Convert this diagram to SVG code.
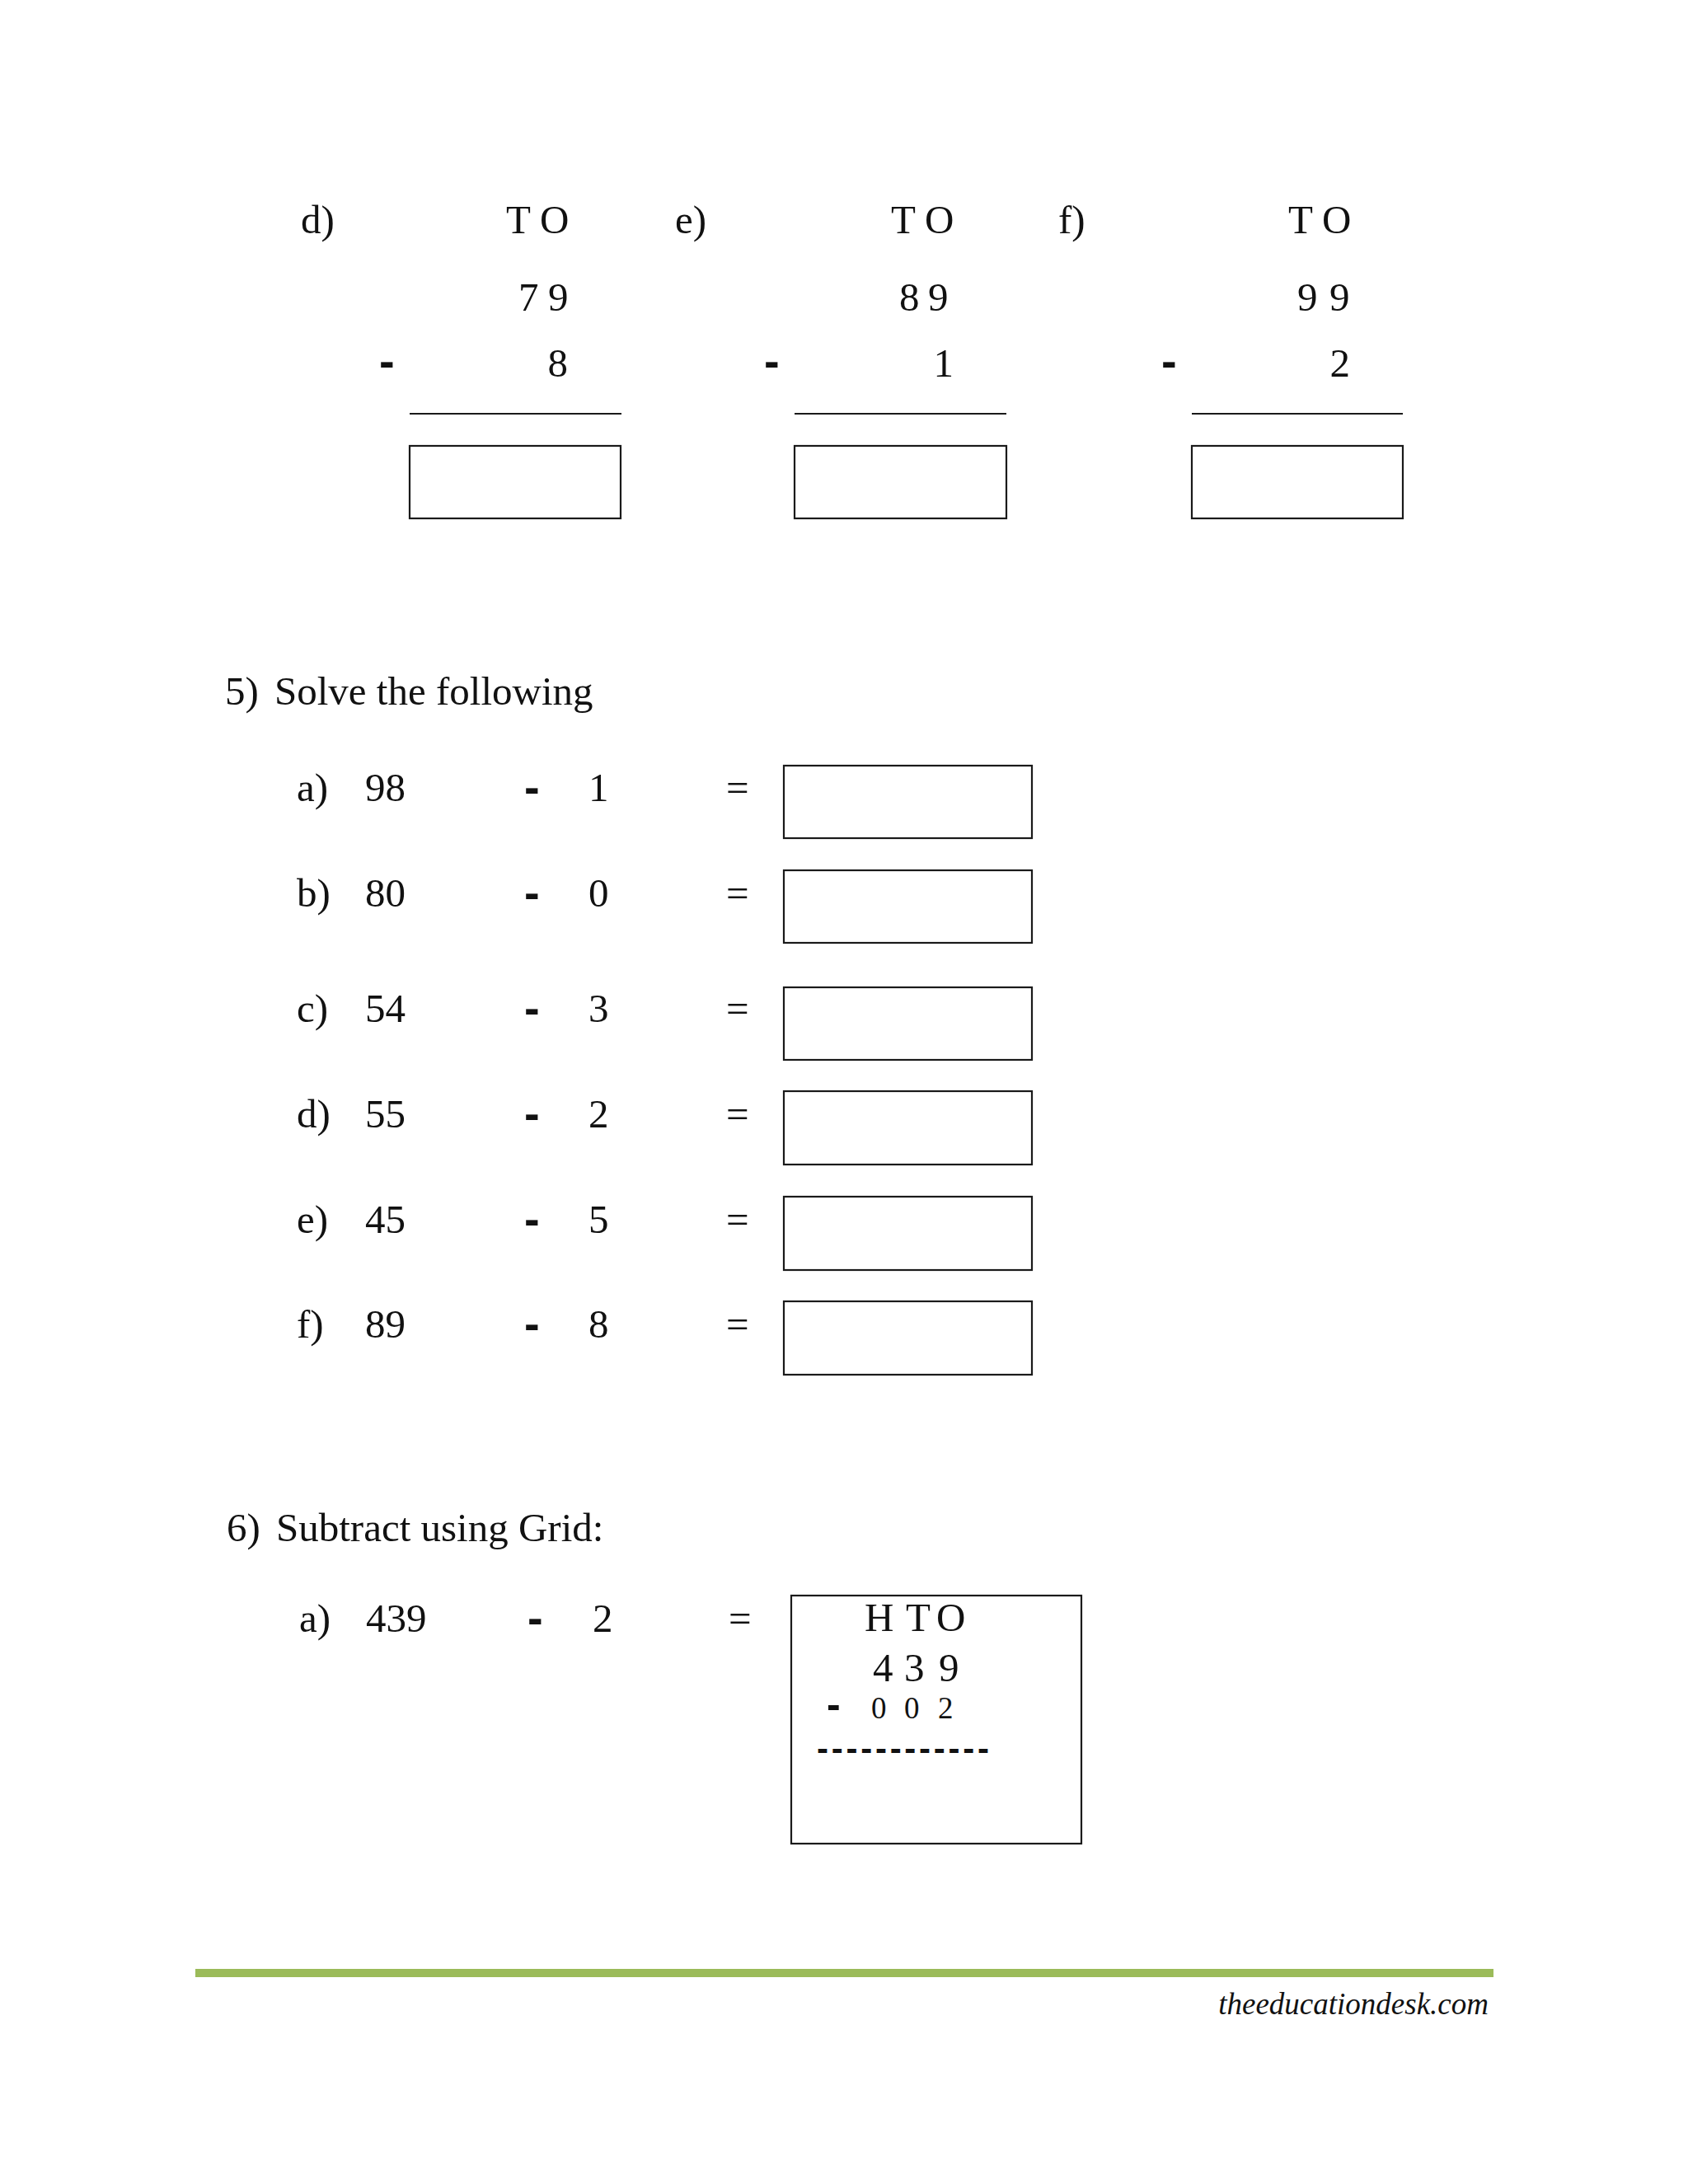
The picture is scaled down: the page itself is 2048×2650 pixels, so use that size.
<svg xmlns="http://www.w3.org/2000/svg" width="2048" height="2650" viewBox="0 0 2048 2650">
<style>
.t{font-family:"Liberation Serif","Times New Roman",serif;font-size:49px;fill:#111}
.m{font-family:"Liberation Sans",Arial,sans-serif;font-weight:bold;font-size:56px;fill:#111}
.b{fill:#fff;stroke:#1a1a1a;stroke-width:2.2}
.rule{stroke:#1a1a1a;stroke-width:2}
.foot{font-family:"Liberation Serif","Times New Roman",serif;font-style:italic;font-size:37px;fill:#111}
</style>
<rect width="2048" height="2650" fill="#fff"/>

<g id="q4d">
<text class="t" x="365" y="283">d)</text>
<text class="t" x="614 655" y="283">TO</text>
<text class="t" x="629 665" y="377">79</text>
<text class="m" x="460" y="457">-</text>
<text class="t" x="689" y="457" text-anchor="end">8</text>
<line class="rule" x1="497" y1="502" x2="754" y2="502"/>
<rect class="b" x="497" y="541" width="256" height="88"/>
</g>
<g id="q4e">
<text class="t" x="819" y="283">e)</text>
<text class="t" x="1081 1122" y="283">TO</text>
<text class="t" x="1091 1126" y="377">89</text>
<text class="m" x="927" y="457">-</text>
<text class="t" x="1157" y="457" text-anchor="end">1</text>
<line class="rule" x1="964" y1="502" x2="1221" y2="502"/>
<rect class="b" x="964" y="541" width="257" height="88"/>
</g>
<g id="q4f">
<text class="t" x="1284" y="283">f)</text>
<text class="t" x="1563 1604" y="283">TO</text>
<text class="t" x="1574 1613" y="377">99</text>
<text class="m" x="1409" y="457">-</text>
<text class="t" x="1638" y="457" text-anchor="end">2</text>
<line class="rule" x1="1446" y1="502" x2="1702" y2="502"/>
<rect class="b" x="1446" y="541" width="256" height="88"/>
</g>

<g id="q5-title">
<text class="t" x="273" y="855">5)<tspan x="333">Solve the following</tspan></text>
</g>
<g id="q5a">
<text class="t" x="360" y="972">a)</text>
<text class="t" x="443" y="972">98</text>
<text class="m" x="636" y="974">-</text>
<text class="t" x="714" y="972">1</text>
<text class="t" x="881" y="972">=</text>
<rect class="b" x="951" y="929" width="301" height="88"/>
</g>
<g id="q5b">
<text class="t" x="360" y="1100">b)</text>
<text class="t" x="443" y="1100">80</text>
<text class="m" x="636" y="1102">-</text>
<text class="t" x="714" y="1100">0</text>
<text class="t" x="881" y="1100">=</text>
<rect class="b" x="951" y="1056" width="301" height="88"/>
</g>
<g id="q5c">
<text class="t" x="360" y="1240">c)</text>
<text class="t" x="443" y="1240">54</text>
<text class="m" x="636" y="1242">-</text>
<text class="t" x="714" y="1240">3</text>
<text class="t" x="881" y="1240">=</text>
<rect class="b" x="951" y="1198" width="301" height="88"/>
</g>
<g id="q5d">
<text class="t" x="360" y="1368">d)</text>
<text class="t" x="443" y="1368">55</text>
<text class="m" x="636" y="1370">-</text>
<text class="t" x="714" y="1368">2</text>
<text class="t" x="881" y="1368">=</text>
<rect class="b" x="951" y="1324" width="301" height="89"/>
</g>
<g id="q5e">
<text class="t" x="360" y="1496">e)</text>
<text class="t" x="443" y="1496">45</text>
<text class="m" x="636" y="1498">-</text>
<text class="t" x="714" y="1496">5</text>
<text class="t" x="881" y="1496">=</text>
<rect class="b" x="951" y="1452" width="301" height="89"/>
</g>
<g id="q5f">
<text class="t" x="360" y="1623">f)</text>
<text class="t" x="443" y="1623">89</text>
<text class="m" x="636" y="1625">-</text>
<text class="t" x="714" y="1623">8</text>
<text class="t" x="881" y="1623">=</text>
<rect class="b" x="951" y="1579" width="301" height="89"/>
</g>

<g id="q6-title">
<text class="t" x="275" y="1870">6)<tspan x="335">Subtract using Grid:</tspan></text>
</g>
<g id="q6a">
<text class="t" x="363" y="1980">a)</text>
<text class="t" x="444" y="1980">439</text>
<text class="m" x="640" y="1982">-</text>
<text class="t" x="719" y="1980">2</text>
<text class="t" x="884" y="1980">=</text>
<rect class="b" x="960" y="1936" width="352" height="301"/>
<text class="t" x="1049 1099 1136" y="1979">HTO</text>
<text class="t" x="1059 1097 1139" y="2040">439</text>
<text class="m" x="1003" y="2085" style="font-size:50px">-</text>
<text class="t" x="1057 1097 1138" y="2085" style="font-size:37px">002</text>
<text class="m" x="991" y="2136" style="font-size:42px" textLength="209" lengthAdjust="spacing">------------</text>
</g>

<g id="footer">
<rect x="237" y="2389" width="1575" height="10" fill="#9bbb59"/>
<text class="foot" x="1806" y="2444" text-anchor="end">theeducationdesk.com</text>
</g>
</svg>
